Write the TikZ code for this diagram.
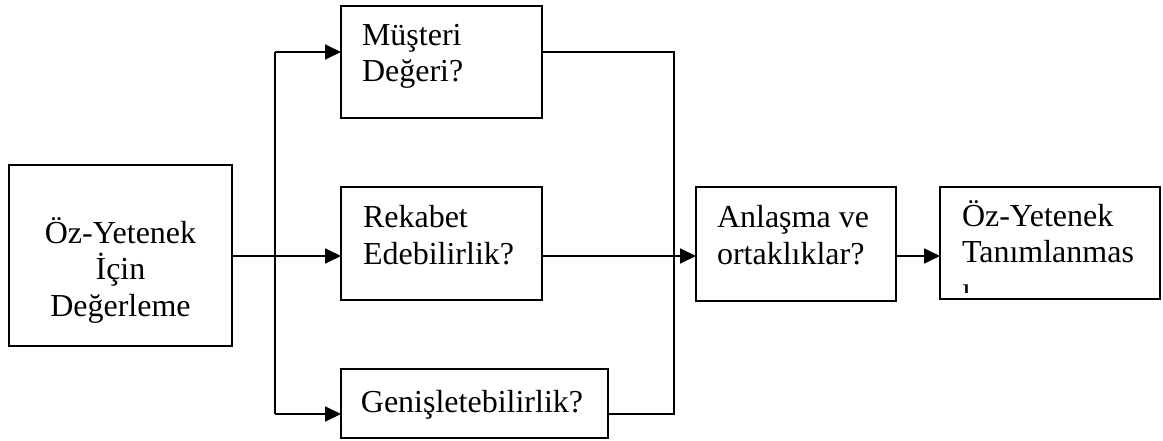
\documentclass[tikz,border=0pt]{standalone}
\usepackage{fontspec}
\setmainfont{Liberation Serif}
\usetikzlibrary{arrows.meta}
\begin{document}
\begin{tikzpicture}[x=1pt,y=-1pt,
  box/.style={draw,line width=1.8pt,rectangle,inner sep=0pt,outer sep=0pt},
  txt/.style={inner sep=0pt,outer sep=0pt,font=\fontsize{32}{36.5}\selectfont},
  wire/.style={line width=1.8pt},
  arr/.style={line width=1.8pt,-{Triangle[length=16pt,width=15pt]}}]
\useasboundingbox (0,0) rectangle (1163,441);
% boxes
\node[box,minimum width=223pt,minimum height=181pt] (b1) at (120.5,255.5) {};
\node[box,minimum width=201pt,minimum height=112pt] (mus) at (441.5,62) {};
\node[box,minimum width=201pt,minimum height=113pt] (rek) at (441.5,243.5) {};
\node[box,minimum width=267pt,minimum height=69pt] (gen) at (474.5,403.5) {};
\node[box,minimum width=200pt,minimum height=114pt] (anl) at (796,244) {};
\node[box,minimum width=220pt,minimum height=112pt] (ozt) at (1050,243) {};
% texts (anchor = baseline of last line)
\node[txt,align=center,anchor=base] (b1t) at (120.5,316) {Öz-Yetenek\\İçin\\Değerleme};
\node[txt,align=left,anchor=base west] (must) at (362,82) {Müşteri\\Değeri?};
\node[txt,align=left,anchor=base west] (rekt) at (363,264) {Rekabet\\Edebilirlik?};
\node[txt,anchor=base] (gent) at (472,412) {Genişletebilirlik?};
\node[txt,align=left,anchor=base west] (anlt) at (717,264) {Anlaşma ve\\ortaklıklar?};
\begin{scope}
\clip (ozt.north west) rectangle (1160,292);
\node[txt,align=left,anchor=base west] (ozti) at (962,299) {Öz-Yetenek\\Tanımlanmas\\ı};
\end{scope}
% junctions
\coordinate (j) at (275,256);
\coordinate (jt) at (275,52);
\coordinate (jb) at (275,414);
\coordinate (kt) at (674,52);
\coordinate (kb) at (674,414);
% connectors
\draw[wire] (b1.east |- j) -- (j);
\draw[wire] (jt) -- (jb);
\draw[arr] (jt) -- (jt -| mus.west);
\draw[arr] (j) -- (j -| rek.west);
\draw[arr] (jb) -- (jb -| gen.west);
\draw[wire] (kt -| mus.east) -- (kt) -- (kb) -- (kb -| gen.east);
\draw[arr] (j -| rek.east) -- (j -| anl.west);
\draw[arr] (j -| anl.east) -- (j -| ozt.west);
\end{tikzpicture}
\end{document}
